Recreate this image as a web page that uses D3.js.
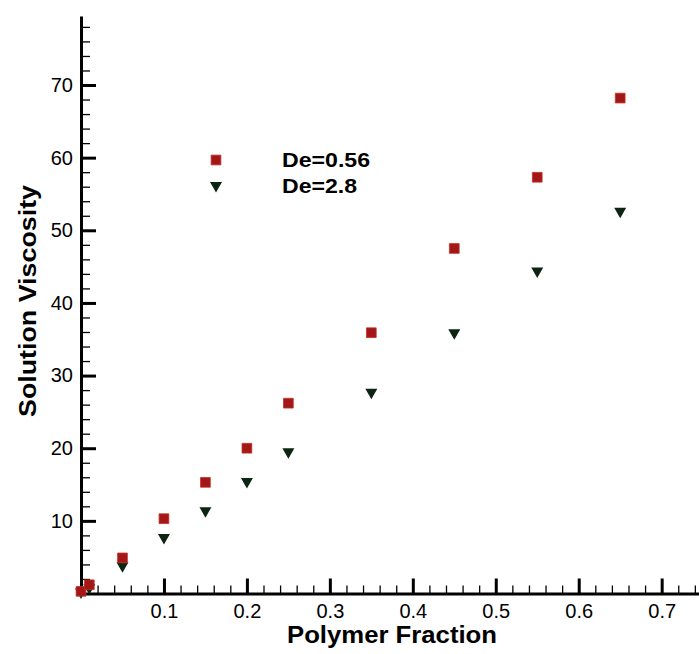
<!DOCTYPE html>
<html>
<head>
<meta charset="utf-8">
<script src="https://cdn.jsdelivr.net/npm/d3@7"></script>
<style>
  html, body { margin: 0; padding: 0; background: #fff; }
  svg { display: block; }
  text { font-family: "Liberation Sans", Arial, sans-serif; }
</style>
</head>
<body>
<svg id="chart" width="699" height="654"></svg>
<script>
// ---- data ----
const fractions = [0, 0.01, 0.05, 0.10, 0.15, 0.20, 0.25, 0.35, 0.45, 0.55, 0.65];
const viscDe056 = [0.3, 1.2, 4.9, 10.3, 15.3, 20.0, 26.2, 35.9, 47.5, 57.3, 68.2];
const viscDe28  = [0.0, 0.6, 3.6, 7.5, 11.2, 15.2, 19.3, 27.5, 35.7, 44.2, 52.4];
const seriesNames = ["De=0.56", "De=2.8"];
const xTickValues = [0.1, 0.2, 0.3, 0.4, 0.5, 0.6, 0.7];
const yTickValues = [10, 20, 30, 40, 50, 60, 70];
const xTitle = "Polymer Fraction";
const yTitle = "Solution Viscosity";

const svg = d3.select("#chart");
const x = d3.scaleLinear().domain([0, 0.745]).range([81, 699]);
const y = d3.scaleLinear().domain([0, 79.5]).range([593.5, 16]);

const xMinor = d3.range(0.02, 0.745, 0.02).filter(v => Math.abs(v*10 - Math.round(v*10)) > 1e-6);
const yMinor = d3.range(2, 79.5, 2).filter(v => v % 10 !== 0);

// minor ticks x
svg.append("g").attr("transform", `translate(0,${y(0)})`)
  .call(d3.axisBottom(x).tickValues(xMinor).tickSize(-8).tickSizeOuter(0).tickFormat(""))
  .call(g => g.select(".domain").remove())
  .call(g => g.selectAll("line").attr("stroke", "#000").attr("stroke-width", 1.3));
// minor ticks y
svg.append("g").attr("transform", `translate(${x(0)},0)`)
  .call(d3.axisLeft(y).tickValues(yMinor).tickSize(-9).tickSizeOuter(0).tickFormat(""))
  .call(g => g.select(".domain").remove())
  .call(g => g.selectAll("line").attr("stroke", "#000").attr("stroke-width", 1.3));

// major x axis
const gx = svg.append("g").attr("transform", `translate(0,${y(0)})`)
  .call(d3.axisBottom(x).tickValues(xTickValues).tickSize(-15).tickSizeOuter(0).tickPadding(10)
    .tickFormat(d3.format(".1f")));
gx.select(".domain").attr("stroke", "#000").attr("stroke-width", 3);
gx.selectAll(".tick line").attr("stroke", "#000").attr("stroke-width", 3);
gx.selectAll(".tick text").attr("font-size", 20).attr("fill", "#000")
  .attr("font-family", "Liberation Sans, Arial, sans-serif");

// major y axis
const gy = svg.append("g").attr("transform", `translate(${x(0)},0)`)
  .call(d3.axisLeft(y).tickValues(yTickValues).tickSize(-15).tickSizeOuter(0).tickPadding(8));
gy.select(".domain").attr("stroke", "#000").attr("stroke-width", 3);
gy.selectAll(".tick line").attr("stroke", "#000").attr("stroke-width", 3);
gy.selectAll(".tick text").attr("font-size", 20).attr("fill", "#000")
  .attr("font-family", "Liberation Sans, Arial, sans-serif");

// titles
svg.append("text").attr("x", 392).attr("y", 643).attr("text-anchor", "middle")
  .attr("font-size", 23).attr("font-weight", "bold")
  .attr("textLength", 210).attr("lengthAdjust", "spacingAndGlyphs").text(xTitle);
svg.append("text").attr("transform", "translate(36,301) rotate(-90)").attr("text-anchor", "middle")
  .attr("font-size", 23).attr("font-weight", "bold")
  .attr("textLength", 232).attr("lengthAdjust", "spacingAndGlyphs").text(yTitle);

const sqColor = "#a3161a";
const triColor = "#0c2412";
const sq = d3.symbol().type(d3.symbolSquare).size(95);
const tri = (cx, cy) => `M${cx-6},${cy-5}L${cx+6},${cy-5}L${cx},${cy+5.5}Z`;

// series 2 (triangles)
svg.append("g").selectAll("path").data(fractions.map((f, i) => [f, viscDe28[i]]))
  .join("path").attr("d", d => tri(x(d[0]), y(d[1]))).attr("fill", triColor);
// series 1 (squares)
svg.append("g").selectAll("path").data(fractions.map((f, i) => [f, viscDe056[i]]))
  .join("path").attr("d", sq).attr("transform", d => `translate(${x(d[0])},${y(d[1])})`)
  .attr("fill", sqColor).attr("stroke", "#c0341c").attr("stroke-width", 0.8);

// legend
svg.append("path").attr("d", sq).attr("transform", "translate(216,160)")
  .attr("fill", sqColor).attr("stroke", "#c0341c").attr("stroke-width", 0.8);
svg.append("path").attr("d", tri(216, 187)).attr("fill", triColor);
svg.append("text").attr("x", 282).attr("y", 167).attr("font-size", 21).attr("font-weight", "bold")
  .attr("textLength", 88).attr("lengthAdjust", "spacingAndGlyphs").text(seriesNames[0]);
svg.append("text").attr("x", 282).attr("y", 193).attr("font-size", 21).attr("font-weight", "bold")
  .attr("textLength", 75).attr("lengthAdjust", "spacingAndGlyphs").text(seriesNames[1]);
</script>
</body>
</html>
